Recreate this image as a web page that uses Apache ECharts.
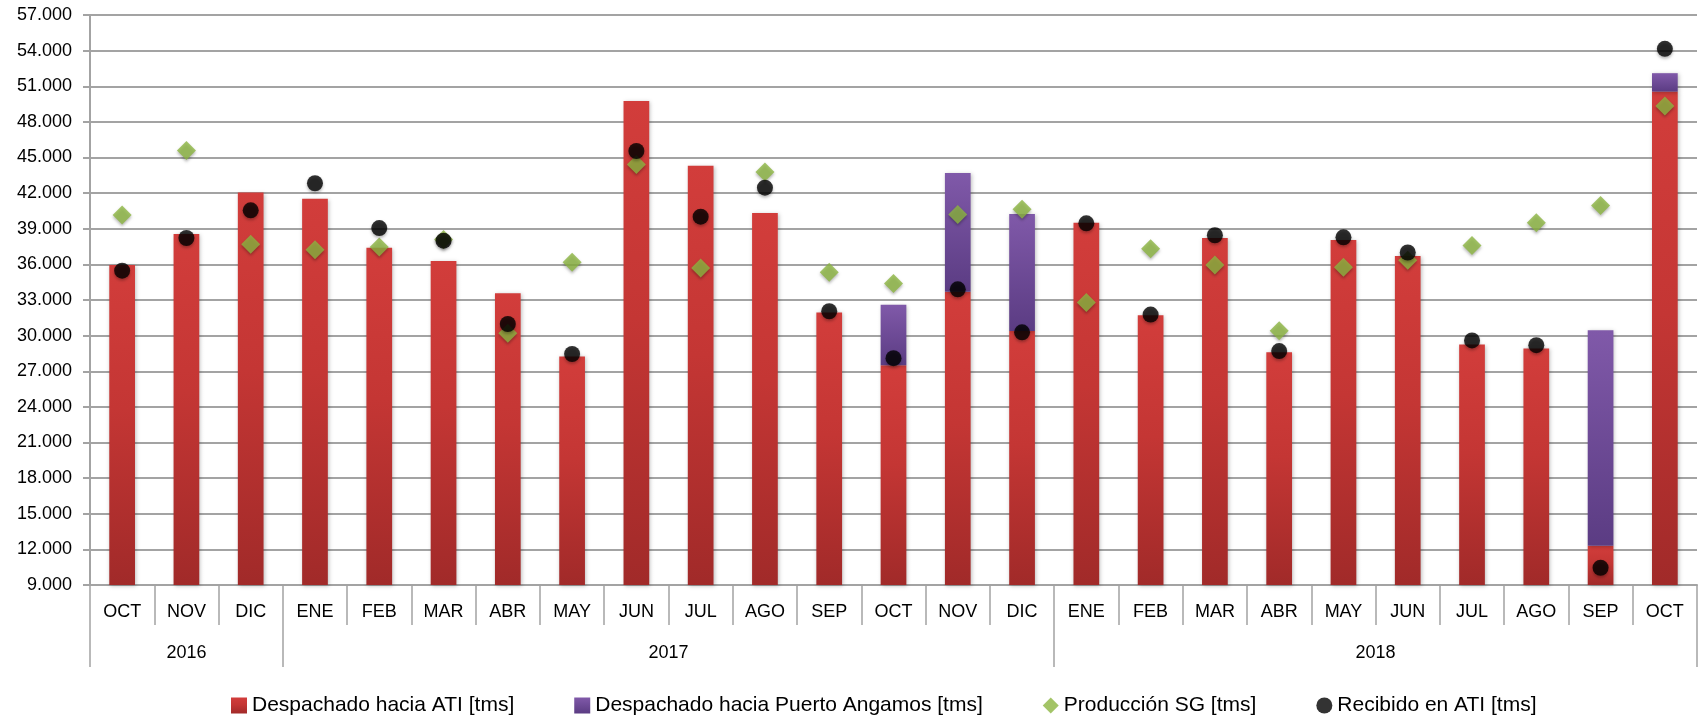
<!DOCTYPE html>
<html>
<head>
<meta charset="utf-8">
<script src="https://cdn.jsdelivr.net/npm/echarts@6/dist/echarts.min.js"></script>
<style>
html,body{margin:0;padding:0;background:#fff;}
#chart{width:1698px;height:720px;}
</style>
</head>
<body>
<div id="chart"></div>
<script>
const categories = ['OCT','NOV','DIC','ENE','FEB','MAR','ABR','MAY','JUN','JUL','AGO','SEP','OCT','NOV','DIC','ENE','FEB','MAR','ABR','MAY','JUN','JUL','AGO','SEP','OCT'];
const years = ['2016','2017','2018'];
const yearStart = [0, 3, 15];
const yearEnd = [3, 15, 25];

const despachadoATI = [35950, 38560, 42050, 41530, 37400, 36280, 33560, 28250, 49760, 44310, 40330, 31950, 27500, 33700, 30400, 39510, 31720, 38220, 28590, 38050, 36700, 29250, 28920, 12300, 50550];
const despachadoAngamos = [0, 0, 0, 0, 0, 0, 0, 0, 0, 0, 0, 0, 5100, 10000, 9850, 0, 0, 0, 0, 0, 0, 0, 0, 18150, 1550];
const produccionSG = [40160, 45580, 37690, 37240, 37460, 38100, 30190, 36170, 44420, 35700, 43780, 35330, 34380, 40190, 40640, 32800, 37320, 35950, 30420, 35750, 36350, 37600, 39510, 40950, 49340];
const recibidoATI = [35470, 38220, 40550, 42830, 39060, 38000, 30980, 28450, 45550, 40020, 42460, 32050, 28100, 33900, 30280, 39460, 31770, 38450, 28700, 38280, 37000, 29600, 29200, 10450, 54150];

const yMin = 9000, yMax = 57000, yStep = 3000;

// half-step positions for the year axis
const halfSteps = [];
for (let k = 0; k <= categories.length * 2; k++) halfSteps.push(k);
const yearLabelAt = {};
const yearTickAt = {};
years.forEach((y, i) => {
  yearLabelAt[yearStart[i] + yearEnd[i]] = y;
  yearTickAt[yearStart[i] * 2] = true;
  yearTickAt[yearEnd[i] * 2] = true;
});

const FONT = 'Liberation Sans, Arial, sans-serif';
const GRAY = '#A3A3A3';

function fmt(v) {
  const t = Math.floor(v / 1000);
  const r = String(v % 1000).padStart(3, '0');
  return t + '.' + r;
}

const chart = echarts.init(document.getElementById('chart'), null, {renderer: 'canvas'});
chart.setOption({
  animation: false,
  backgroundColor: '#fff',
  textStyle: {fontFamily: FONT},
  grid: {left: 90, right: 1, top: 15, bottom: 135, containLabel: false},
  legend: {
    top: 690,
    left: 226,
    itemWidth: 16,
    itemHeight: 16,
    itemGap: 60,
    textStyle: {fontFamily: FONT, fontSize: 21, color: '#000'},
    data: [
      {name: 'Despachado hacia ATI [tms]', icon: 'rect'},
      {name: 'Despachado hacia Puerto Angamos [tms]', icon: 'rect'},
      {name: 'Producción SG [tms]', icon: 'diamond'},
      {name: 'Recibido en ATI [tms]', icon: 'circle'}
    ]
  },
  xAxis: [
    {
      type: 'category',
      data: categories,
      boundaryGap: true,
      axisLine: {show: true, lineStyle: {color: GRAY, width: 2}},
      axisTick: {show: true, interval: 0, length: 40, lineStyle: {color: GRAY, width: 1.5}},
      axisLabel: {interval: 0, margin: 18, fontSize: 18, color: '#000', fontFamily: FONT},
      splitLine: {show: false}
    },
    {
      type: 'category',
      data: halfSteps,
      boundaryGap: false,
      position: 'bottom',
      axisLine: {show: false},
      axisTick: {
        show: true,
        length: 82,
        interval: function (idx) { return !!yearTickAt[idx]; },
        lineStyle: {color: GRAY, width: 1.5}
      },
      axisLabel: {
        show: true,
        margin: 59,
        fontSize: 18,
        color: '#000',
        fontFamily: FONT,
        interval: function (idx) { return yearLabelAt[idx] !== undefined; },
        formatter: function (v) { return yearLabelAt[v] || ''; }
      },
      splitLine: {show: false}
    }
  ],
  yAxis: {
    type: 'value',
    min: yMin,
    max: yMax,
    interval: yStep,
    axisLine: {show: true, lineStyle: {color: GRAY, width: 2}},
    axisTick: {show: true, length: 7, lineStyle: {color: GRAY, width: 2}},
    axisLabel: {margin: 18, fontSize: 18, color: '#000', fontFamily: FONT, formatter: fmt},
    splitLine: {show: true, lineStyle: {color: GRAY, width: 2}}
  },
  series: [
    {
      name: 'Despachado hacia ATI [tms]',
      type: 'bar',
      stack: 'desp',
      barWidth: '40%',
      data: despachadoATI,
      itemStyle: {
        color: new echarts.graphic.LinearGradient(0, 0, 0, 1, [
          {offset: 0, color: '#D23D3B'},
          {offset: 0.45, color: '#C43634'},
          {offset: 1, color: '#A12A29'}
        ]),
        shadowBlur: 4,
        shadowColor: 'rgba(0,0,0,0.25)',
        shadowOffsetX: 1,
        shadowOffsetY: 1
      }
    },
    {
      name: 'Despachado hacia Puerto Angamos [tms]',
      type: 'bar',
      stack: 'desp',
      barWidth: '40%',
      data: despachadoAngamos,
      itemStyle: {
        color: new echarts.graphic.LinearGradient(0, 0, 0, 1, [
          {offset: 0, color: '#8059A9'},
          {offset: 1, color: '#5B3C83'}
        ]),
        shadowBlur: 4,
        shadowColor: 'rgba(0,0,0,0.25)',
        shadowOffsetX: 1,
        shadowOffsetY: 1
      }
    },
    {
      name: 'Producción SG [tms]',
      type: 'scatter',
      symbol: 'diamond',
      symbolSize: [19, 19],
      data: produccionSG,
      z: 5,
      itemStyle: {
        color: '#8CB541',
        shadowBlur: 3,
        shadowColor: 'rgba(0,0,0,0.35)',
        shadowOffsetY: 2
      }
    },
    {
      name: 'Recibido en ATI [tms]',
      type: 'scatter',
      symbol: 'circle',
      symbolSize: 16,
      data: recibidoATI,
      z: 6,
      itemStyle: {
        color: '#000000',
        shadowBlur: 3,
        shadowColor: 'rgba(0,0,0,0.35)',
        shadowOffsetY: 2
      }
    }
  ]
});
</script>
</body>
</html>
